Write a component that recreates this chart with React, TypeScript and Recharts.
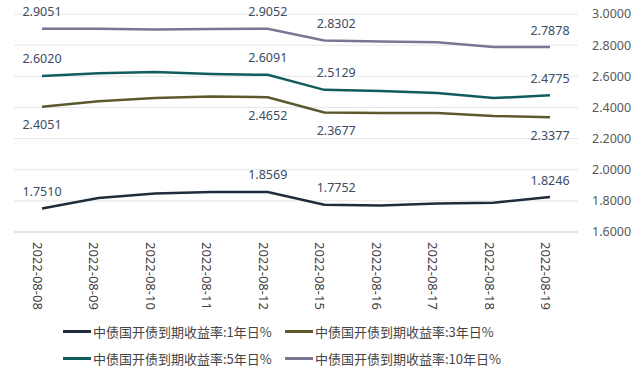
import React from "react";
import { CartesianGrid, Legend, Line, LineChart, LabelList, XAxis, YAxis } from "recharts";

const dates = [
  "2022-08-08", "2022-08-09", "2022-08-10", "2022-08-11", "2022-08-12",
  "2022-08-15", "2022-08-16", "2022-08-17", "2022-08-18", "2022-08-19",
];
const yield1y = [1.751, 1.818, 1.848, 1.857, 1.8569, 1.7752, 1.77, 1.783, 1.788, 1.8246];
const yield3y = [2.4051, 2.44, 2.46, 2.47, 2.4652, 2.3677, 2.365, 2.364, 2.345, 2.3377];
const yield5y = [2.602, 2.62, 2.628, 2.615, 2.6091, 2.5129, 2.505, 2.493, 2.46, 2.4775];
const yield10y = [2.9051, 2.905, 2.9, 2.903, 2.9052, 2.8302, 2.824, 2.818, 2.788, 2.7878];
const yTicks = [1.6, 1.8, 2.0, 2.2, 2.4, 2.6, 2.8, 3.0];
const labelIdx = [0, 4, 5, 9];

const data = dates.map((d, i) => ({
  date: d,
  y1: yield1y[i],
  y3: yield3y[i],
  y5: yield5y[i],
  y10: yield10y[i],
}));

const series = [
  { key: "y1", name: "中债国开债到期收益率:1年日%", color: "#1e2c3c", below: false },
  { key: "y3", name: "中债国开债到期收益率:3年日%", color: "#5c5a2c", below: true },
  { key: "y5", name: "中债国开债到期收益率:5年日%", color: "#115c5c", below: false },
  { key: "y10", name: "中债国开债到期收益率:10年日%", color: "#7b7593", below: false },
];

const font = "'Noto Sans', 'Noto Sans CJK SC', sans-serif";

function makeLabel(below: boolean) {
  return (props: any) => {
    const { x, y, value, index } = props;
    if (!labelIdx.includes(index)) return null;
    return (
      <text
        x={x + (index === 5 ? 12 : 0)}
        y={below ? y + 18 : y - 17}
        textAnchor="middle"
        dominantBaseline="central"
        fontSize={12.5}
        fontFamily={font}
        fill="#3d4b63"
      >
        {Number(value).toFixed(4)}
      </text>
    );
  };
}

function DateTick(props: any) {
  const { x, y, payload } = props;
  const tx = x - 4;
  const ty = y + 2;
  return (
    <text
      x={tx}
      y={ty}
      transform={`rotate(90, ${tx}, ${ty})`}
      textAnchor="start"
      dominantBaseline="central"
      fontSize={13}
      fontFamily={font}
      fill="#404040"
    >
      {payload.value}
    </text>
  );
}

function LegendBox() {
  const cols = [63, 285];
  const rows = [331, 358];
  return (
    <div style={{ position: "relative", width: 640, height: 64 }}>
      {series.map((s, i) => (
        <div
          key={s.key}
          style={{
            position: "absolute",
            left: cols[i % 2],
            top: rows[Math.floor(i / 2)] - 312 - 10,
            height: 20,
            display: "flex",
            alignItems: "center",
            whiteSpace: "nowrap",
            fontFamily: "'Noto Sans CJK SC', sans-serif",
            fontSize: 13,
            color: "#454545",
          }}
        >
          <span style={{ display: "inline-block", width: 28, height: 3, background: s.color, marginRight: 2 }} />
          {s.name}
        </div>
      ))}
    </div>
  );
}

export default function App() {
  return (
    <div style={{ position: "absolute", left: 0, top: 0, background: "#fff" }}>
      <LineChart width={640} height={376} data={data} margin={{ top: 14, right: 0, left: 14, bottom: 0 }}>
        <CartesianGrid vertical={false} stroke="#e6e6e6" />
        <XAxis
          dataKey="date"
          height={80}
          interval={0}
          padding={{ left: 28, right: 28 }}
          tick={<DateTick />}
          tickLine={false}
          axisLine={{ stroke: "#d9d9d9" }}
        />
        <YAxis
          orientation="right"
          width={62}
          domain={[1.6, 3.0]}
          ticks={yTicks}
          tickFormatter={(v: number) => v.toFixed(4)}
          tick={{ fontSize: 12.5, fill: "#595959", fontFamily: font, dx: 6 }}
          tickLine={false}
          axisLine={false}
        />
        <Legend
          verticalAlign="bottom"
          height={64}
          wrapperStyle={{ left: 0, width: 640 }}
          content={() => <LegendBox />}
        />
        {series.map((s) => (
          <Line
            key={s.key}
            type="linear"
            dataKey={s.key}
            name={s.name}
            stroke={s.color}
            strokeWidth={2.5}
            dot={false}
            isAnimationActive={false}
          >
            <LabelList dataKey={s.key} content={makeLabel(s.below)} />
          </Line>
        ))}
      </LineChart>
    </div>
  );
}
